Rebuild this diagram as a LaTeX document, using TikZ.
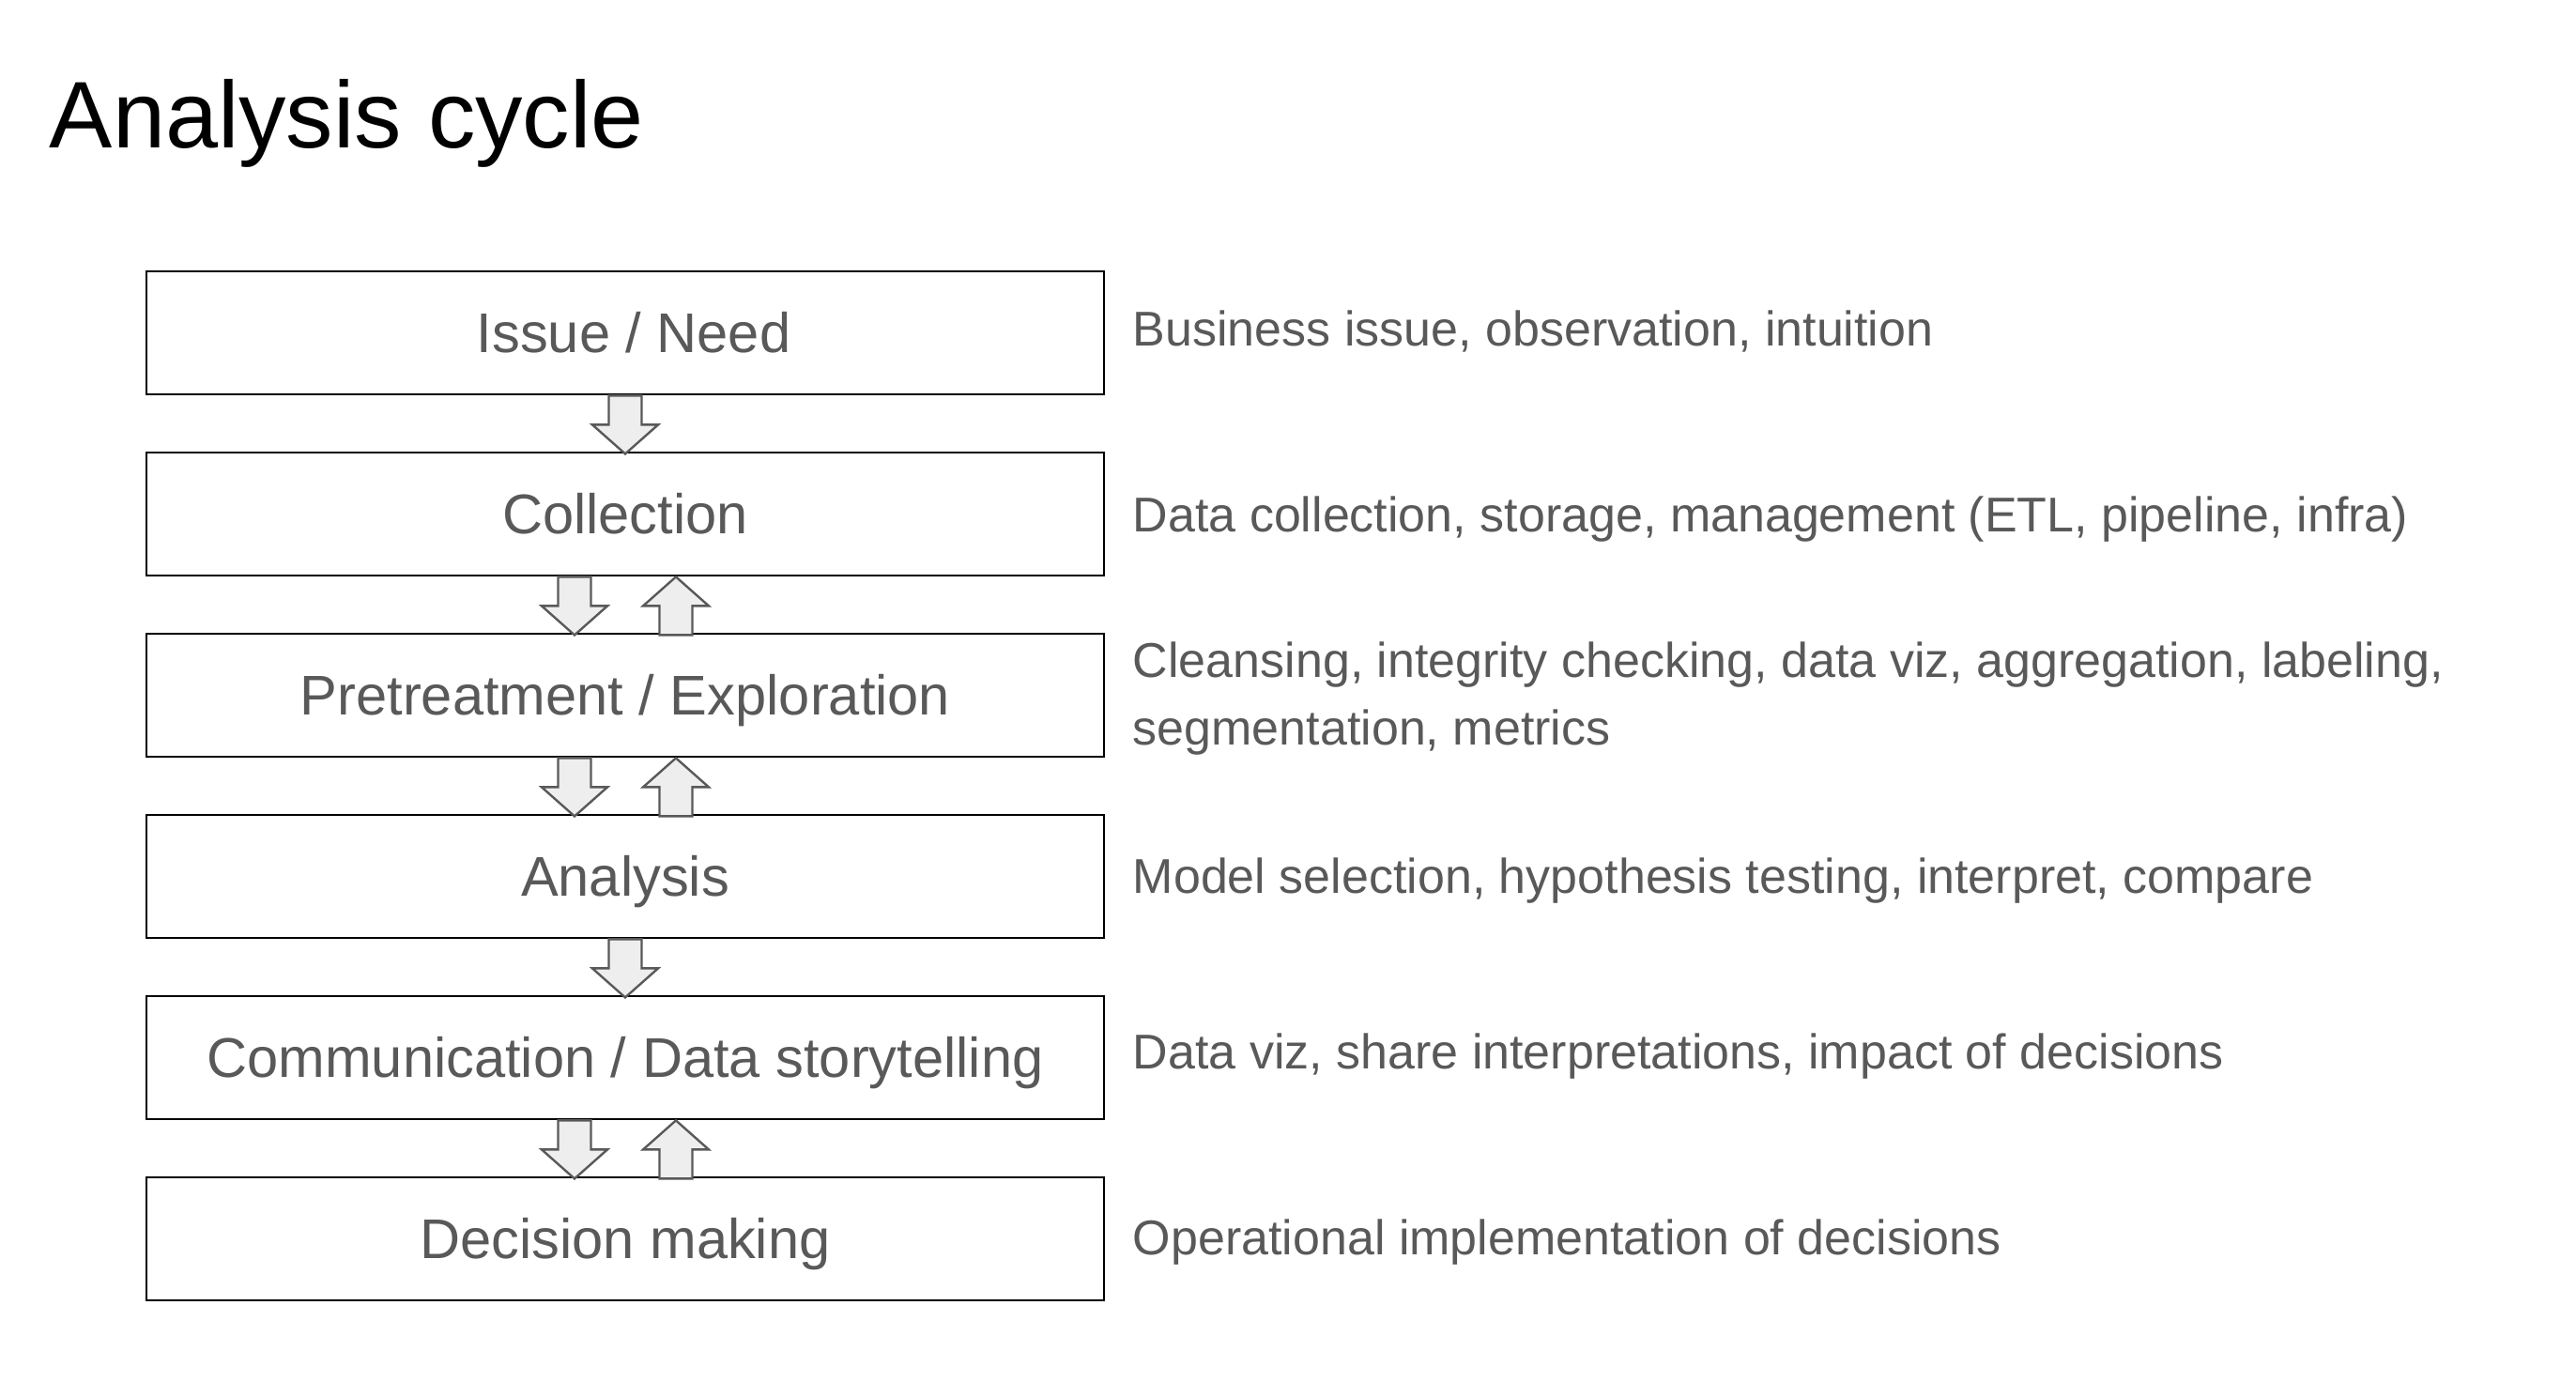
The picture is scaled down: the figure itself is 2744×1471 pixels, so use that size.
\documentclass[tikz,border=0pt]{standalone}
\usepackage{fontspec}
\setmainfont{Liberation Sans}
\definecolor{txtgray}{HTML}{595959}
\definecolor{arrfill}{HTML}{EEEEEE}
\definecolor{arrline}{HTML}{595959}
\begin{document}
\begin{tikzpicture}[x=0.25pt,y=-0.25pt,
  stage/.style={draw=black,line width=0.7pt,fill=white,minimum width=255pt,minimum height=32.75pt,inner sep=0pt,
    text height=10.67pt,text depth=0pt,
    text=txtgray,font=\fontsize{14.9pt}{17pt}\selectfont},
  desc/.style={anchor=base west,inner sep=0pt,text=txtgray,font=\fontsize{13pt}{18pt}\selectfont,align=left},
  blockarr/.style={draw=arrline,fill=arrfill,line width=0.6pt,line join=miter},
  dnarr/.pic={\draw[blockarr] (-17.5,0) -- (17.5,0) -- (17.5,31) -- (35,31) -- (0,62) -- (-35,31) -- (-17.5,31) -- cycle;},
  uparr/.pic={\draw[blockarr] (-17.5,62) -- (17.5,62) -- (17.5,31) -- (35,31) -- (0,0) -- (-35,31) -- (-17.5,31) -- cycle;}
]
\useasboundingbox[fill=white] (0,0) rectangle (2744,1471);
\node[anchor=base west,inner sep=0pt,font=\fontsize{25.2pt}{30pt}\selectfont] (title) at (52,157) {Analysis cycle};

\node[stage] (s1) at (666,354.5) {\hspace*{4.5pt}Issue / Need};
\node[stage] (s2) at (666,547.5) {Collection};
\node[stage] (s3) at (666,740.5) {Pretreatment / Exploration};
\node[stage] (s4) at (666,933.5) {Analysis};
\node[stage] (s5) at (666,1126.5) {Communication / Data storytelling};
\node[stage] (s6) at (666,1319.5) {Decision making};

\pic at (s1.south) {dnarr};
\pic at ([xshift=-54*0.25pt]s2.south) {dnarr};
\pic at ([xshift=54*0.25pt]s2.south) {uparr};
\pic at ([xshift=-54*0.25pt]s3.south) {dnarr};
\pic at ([xshift=54*0.25pt]s3.south) {uparr};
\pic at (s4.south) {dnarr};
\pic at ([xshift=-54*0.25pt]s5.south) {dnarr};
\pic at ([xshift=54*0.25pt]s5.south) {uparr};

\node[desc] (d1) at (1206,368) {Business issue, observation, intuition};
\node[desc] (d2) at (1206,566) {Data collection, storage, management (ETL, pipeline, infra)};
\node[desc] (d3) at (1206,793) {Cleansing, integrity checking, data viz, aggregation, labeling,\\segmentation, metrics};
\node[desc] (d4) at (1206,951) {Model selection, hypothesis testing, interpret, compare};
\node[desc] (d5) at (1206,1138) {Data viz, share interpretations, impact of decisions};
\node[desc] (d6) at (1206,1336) {Operational implementation of decisions};
\end{tikzpicture}
\end{document}
